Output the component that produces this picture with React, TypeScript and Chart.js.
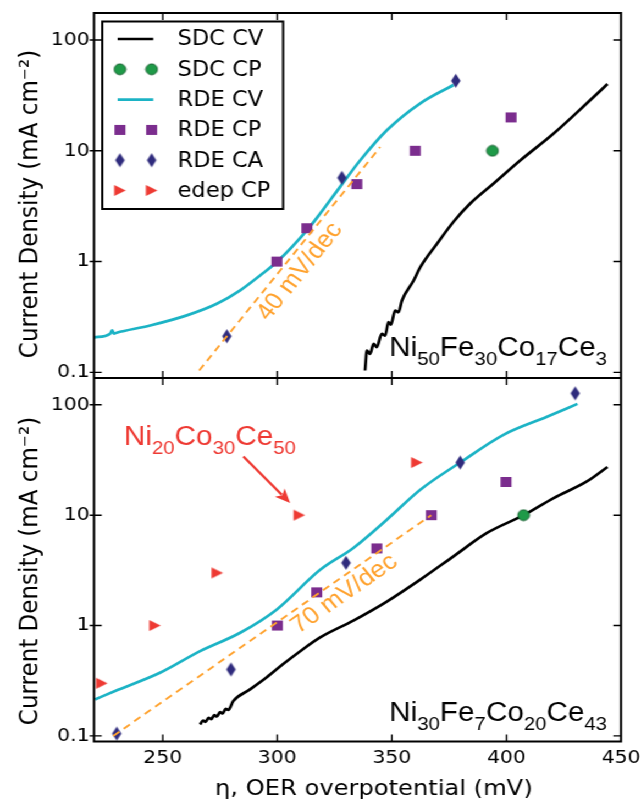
import React, { useEffect, useRef } from 'react';
import { Chart, registerables } from 'chart.js';
Chart.register(...registerables);

// ---------- axes ----------
const X_MIN = 220;
const X_MAX = 450;
const Y_MIN = 0.089;
const Y_MAX = 175;
const X_TICKS = [250, 300, 350, 400, 450];
const X_TICK_LABELS = ['250', '300', '350', '400', '450'];
const Y_TICKS = [0.1, 1, 10, 100];
const Y_TICK_LABELS = ['0.1', '1', '10', '100'];
const X_TITLE = 'η, OER overpotential (mV)';
const Y_TITLE = 'Current Density (mA cm⁻²)';

// ---------- legend ----------
const LEGEND_LABELS = ['SDC CV', 'SDC CP', 'RDE CV', 'RDE CP', 'RDE CA', 'edep CP'];

// ---------- top panel: Ni50Fe30Co17Ce3 ----------
const TOP_SDC_CV_X = [338.3, 339.1, 340.5, 342.0, 343.4, 345.6, 347.1, 348.5, 349.6, 351.4, 352.9, 354.4, 359.5, 362.4, 369.7, 377.0, 384.2, 394.4, 406.1, 420.6, 435.1, 444.1];
const TOP_SDC_CV_Y = [0.104, 0.157, 0.147, 0.181, 0.169, 0.223, 0.215, 0.284, 0.27, 0.362, 0.349, 0.446, 0.675, 0.89, 1.45, 2.3, 3.34, 5.06, 8.2, 14.3, 26.8, 40];
const TOP_SDC_CP_X = [393.9];
const TOP_SDC_CP_Y = [10];
const TOP_RDE_CV_X = [220, 227.0, 227.9, 228.7, 229.9, 244.5, 260.5, 273.6, 283.8, 292.5, 299.8, 312.9, 318.7, 327.4, 336.2, 347.8, 362.4, 376.9];
const TOP_RDE_CV_Y = [0.207, 0.223, 0.239, 0.224, 0.228, 0.265, 0.327, 0.416, 0.55, 0.75, 0.99, 1.91, 2.71, 4.72, 8.2, 15.3, 26.8, 39.2];
const TOP_RDE_CP_X = [299.8, 312.9, 334.7, 360.2, 402.0];
const TOP_RDE_CP_Y = [1, 2, 5, 10, 20];
const TOP_RDE_CA_X = [278.0, 328.2, 377.9];
const TOP_RDE_CA_Y = [0.212, 5.7, 42.8];
const TOP_FIT_X = [265.9, 344.9];
const TOP_FIT_Y = [0.104, 10.8];
const TOP_FIT_LABEL = '40 mV/dec';
const TOP_FIT_LABEL_AT = 304;
const TOP_NAME = ['Ni', '50', 'Fe', '30', 'Co', '17', 'Ce', '3'];
const TOP_NAME_AT = [443.9, 0.142];

// ---------- bottom panel: Ni30Fe7Co20Ce43 ----------
const BOT_SDC_CV_X = [266.3, 267.6, 268.7, 270.0, 271.2, 272.5, 273.6, 275.0, 276.2, 277.5, 278.6, 280.8, 288.1, 295.4, 302.7, 310.0, 318.7, 333.2, 347.8, 362.4, 376.9, 391.5, 407.5, 420.6, 435.1, 444.1];
const BOT_SDC_CV_Y = [0.127, 0.138, 0.134, 0.146, 0.142, 0.154, 0.150, 0.164, 0.160, 0.176, 0.172, 0.207, 0.264, 0.34, 0.45, 0.585, 0.78, 1.11, 1.65, 2.61, 4.24, 6.9, 10, 14.3, 20.2, 27.3];
const BOT_SDC_CP_X = [407.5];
const BOT_SDC_CP_Y = [10];
const BOT_RDE_CV_X = [220.4, 229.2, 248.8, 266.3, 283.8, 299.8, 318.7, 333.2, 347.8, 362.4, 379.8, 398.7, 417.7, 431.0];
const BOT_RDE_CV_Y = [0.214, 0.255, 0.373, 0.586, 0.86, 1.4, 3.2, 5.05, 9.1, 17, 30, 53.5, 78, 102];
const BOT_RDE_CP_X = [300.0, 317.2, 343.4, 367.2, 399.8];
const BOT_RDE_CP_Y = [1, 2, 5, 10, 20];
const BOT_RDE_CA_X = [229.9, 279.8, 330.0, 379.8, 430.0];
const BOT_RDE_CA_Y = [0.105, 0.4, 3.7, 30, 127];
const BOT_EDEP_CP_X = [223.4, 246.6, 273.8, 309.6, 360.9];
const BOT_EDEP_CP_Y = [0.3, 1, 3, 10, 30];
const BOT_FIT_X = [228.4, 367.2];
const BOT_FIT_Y = [0.1, 10];
const BOT_FIT_LABEL = '70 mV/dec';
const BOT_FIT_LABEL_AT = 325;
const BOT_NAME = ['Ni', '30', 'Fe', '7', 'Co', '20', 'Ce', '43'];
const BOT_NAME_AT = [443.9, 0.136];
const EDEP_NAME = ['Ni', '20', 'Co', '30', 'Ce', '50'];
const EDEP_NAME_AT = [233.1, 43.5];
const EDEP_ARROW_FROM = [285.2, 34];
const EDEP_ARROW_TO = [305.6, 12.9];

// ---------- styles ----------
const SX = 641 / 583;
const W = 583;
const TOP_H = 378;
const BOT_H = 421;
const PLOT_LEFT = 85.5;
const RIGHT_PAD = W - 621 / SX;
const ORANGE = '#ffa22e';
const RED = '#ee3a33';
const FONT = 'DejaVu Sans';
const AFONT = 'Liberation Sans';
const LINE_W = 2.7;

type Kind = 'line' | 'circle' | 'square' | 'diamond' | 'triangle';
const STYLE: Record<string, { kind: Kind; color: string; edge?: string; w?: number; h?: number }> = {
  'SDC CV': { kind: 'line', color: '#000000' },
  'SDC CP': { kind: 'circle', color: '#1f9a48', edge: '#0c5626', w: 10.6, h: 10.8 },
  'RDE CV': { kind: 'line', color: '#1cb3c5' },
  'RDE CP': { kind: 'square', color: '#7b2d8e', w: 10, h: 10 },
  'RDE CA': { kind: 'diamond', color: '#2f2b7d', w: 8.6, h: 14 },
  'edep CP': { kind: 'triangle', color: RED, w: 10.5, h: 11 },
};

function makeMarker(kind: Kind, fill: string, edge: string | undefined, w: number, h: number) {
  const c = document.createElement('canvas');
  c.width = Math.ceil(w + 2);
  c.height = Math.ceil(h + 2);
  const g = c.getContext('2d')!;
  const cx = c.width / 2;
  const cy = c.height / 2;
  g.fillStyle = fill;
  g.beginPath();
  if (kind === 'circle') g.ellipse(cx, cy, w / 2, h / 2, 0, 0, Math.PI * 2);
  else if (kind === 'square') g.rect(cx - w / 2, cy - h / 2, w, h);
  else if (kind === 'diamond') {
    g.moveTo(cx, cy - h / 2); g.lineTo(cx + w / 2, cy); g.lineTo(cx, cy + h / 2); g.lineTo(cx - w / 2, cy); g.closePath();
  } else {
    g.moveTo(cx - w / 2, cy - h / 2); g.lineTo(cx + w / 2, cy); g.lineTo(cx - w / 2, cy + h / 2); g.closePath();
  }
  g.fill();
  if (edge) { g.strokeStyle = edge; g.lineWidth = 0.9; g.stroke(); }
  return c;
}

type Series = { label: string; xs: number[]; ys: number[] };
type Panel = {
  name: string;
  isBottom: boolean;
  series: Series[];
  fitX: number[]; fitY: number[]; fitLabel: string; fitLabelAt: number; fitOffset: number;
  chem: string[]; chemAt: number[];
  titleY: number;
};

const TOP_PANEL: Panel = {
  name: 'top', isBottom: false,
  series: [
    { label: 'SDC CV', xs: TOP_SDC_CV_X, ys: TOP_SDC_CV_Y },
    { label: 'SDC CP', xs: TOP_SDC_CP_X, ys: TOP_SDC_CP_Y },
    { label: 'RDE CV', xs: TOP_RDE_CV_X, ys: TOP_RDE_CV_Y },
    { label: 'RDE CP', xs: TOP_RDE_CP_X, ys: TOP_RDE_CP_Y },
    { label: 'RDE CA', xs: TOP_RDE_CA_X, ys: TOP_RDE_CA_Y },
  ],
  fitX: TOP_FIT_X, fitY: TOP_FIT_Y, fitLabel: TOP_FIT_LABEL, fitLabelAt: TOP_FIT_LABEL_AT, fitOffset: 15,
  chem: TOP_NAME, chemAt: TOP_NAME_AT, titleY: 204,
};
const BOT_PANEL: Panel = {
  name: 'bottom', isBottom: true,
  series: [
    { label: 'SDC CV', xs: BOT_SDC_CV_X, ys: BOT_SDC_CV_Y },
    { label: 'SDC CP', xs: BOT_SDC_CP_X, ys: BOT_SDC_CP_Y },
    { label: 'RDE CV', xs: BOT_RDE_CV_X, ys: BOT_RDE_CV_Y },
    { label: 'RDE CP', xs: BOT_RDE_CP_X, ys: BOT_RDE_CP_Y },
    { label: 'RDE CA', xs: BOT_RDE_CA_X, ys: BOT_RDE_CA_Y },
    { label: 'edep CP', xs: BOT_EDEP_CP_X, ys: BOT_EDEP_CP_Y },
  ],
  fitX: BOT_FIT_X, fitY: BOT_FIT_Y, fitLabel: BOT_FIT_LABEL, fitLabelAt: BOT_FIT_LABEL_AT, fitOffset: 14.5,
  chem: BOT_NAME, chemAt: BOT_NAME_AT, titleY: 571 - TOP_H,
};

function chemWidth(ctx: CanvasRenderingContext2D, parts: string[], main: number, sub: number) {
  let w = 0;
  parts.forEach((t, i) => {
    ctx.font = `${i % 2 ? sub : main}px "${AFONT}"`;
    w += ctx.measureText(t).width;
  });
  return w;
}
function drawChem(ctx: CanvasRenderingContext2D, parts: string[], x: number, y: number, color: string) {
  const main = 27, sub = 18.5, shift = 9;
  ctx.fillStyle = color;
  ctx.textAlign = 'left';
  ctx.textBaseline = 'alphabetic';
  let cx = x;
  parts.forEach((t, i) => {
    ctx.font = `${i % 2 ? sub : main}px "${AFONT}"`;
    ctx.fillText(t, cx, i % 2 ? y + shift : y);
    cx += ctx.measureText(t).width;
  });
}

function decorPlugin(p: Panel, markers: Record<string, HTMLCanvasElement>) {
  return {
    id: 'decor_' + p.name,
    afterDraw(chart: any) {
      const ctx: CanvasRenderingContext2D = chart.ctx;
      const a = chart.chartArea;
      const xs = chart.scales.x;
      const ys = chart.scales.y;
      ctx.save();
      // frame
      ctx.strokeStyle = '#000';
      ctx.lineWidth = 2;
      ctx.strokeRect(a.left, a.top, a.right - a.left, a.bottom - a.top);
      // inward ticks
      ctx.lineWidth = 1.4;
      ctx.beginPath();
      X_TICKS.forEach((t) => {
        const px = xs.getPixelForValue(t);
        if (px < a.right - 2) {
          ctx.moveTo(px, a.bottom); ctx.lineTo(px, a.bottom - 7);
          ctx.moveTo(px, a.top); ctx.lineTo(px, a.top + 7);
        }
      });
      Y_TICKS.forEach((t) => {
        const py = ys.getPixelForValue(t);
        ctx.moveTo(a.left - 4, py); ctx.lineTo(a.left + 7, py);
        ctx.moveTo(a.right, py); ctx.lineTo(a.right - 7, py);
      });
      ctx.stroke();

      // y title
      ctx.save();
      ctx.translate(33.5, p.titleY);
      ctx.rotate(-Math.PI / 2);
      ctx.fillStyle = '#000';
      ctx.font = `23px "${FONT}"`;
      ctx.textAlign = 'center';
      ctx.textBaseline = 'alphabetic';
      ctx.fillText(Y_TITLE, 0, 0);
      ctx.restore();

      // x title
      if (p.isBottom) {
        ctx.fillStyle = '#000';
        ctx.font = `22px "${FONT}"`;
        ctx.textAlign = 'center';
        ctx.textBaseline = 'alphabetic';
        ctx.fillText(X_TITLE, 340, 795 - TOP_H);
      }

      // fit label, rotated along the dashed line
      const x1 = xs.getPixelForValue(p.fitX[0]), y1 = ys.getPixelForValue(p.fitY[0]);
      const x2 = xs.getPixelForValue(p.fitX[1]), y2 = ys.getPixelForValue(p.fitY[1]);
      const ang = Math.atan2(y2 - y1, x2 - x1);
      const f = (p.fitLabelAt - p.fitX[0]) / (p.fitX[1] - p.fitX[0]);
      const vOn = Math.pow(10, Math.log10(p.fitY[0]) + f * (Math.log10(p.fitY[1]) - Math.log10(p.fitY[0])));
      const px = xs.getPixelForValue(p.fitLabelAt), py = ys.getPixelForValue(vOn);
      const off = p.fitOffset;
      ctx.save();
      ctx.translate(px - Math.sin(ang) * off, py + Math.cos(ang) * off);
      ctx.rotate(ang);
      ctx.fillStyle = ORANGE;
      ctx.font = `24px "${AFONT}"`;
      ctx.textAlign = 'center';
      ctx.textBaseline = 'middle';
      ctx.fillText(p.fitLabel, 0, 0);
      ctx.restore();

      // composition label (right aligned)
      {
        const wChem = chemWidth(ctx, p.chem, 27, 18.5);
        const rx = xs.getPixelForValue(p.chemAt[0]);
        const by = ys.getPixelForValue(p.chemAt[1]);
        drawChem(ctx, p.chem, rx - wChem, by, '#000');
      }

      if (p.isBottom) {
        // edep label + arrow
        drawChem(ctx, EDEP_NAME, xs.getPixelForValue(EDEP_NAME_AT[0]), ys.getPixelForValue(EDEP_NAME_AT[1]), RED);
        const ax = xs.getPixelForValue(EDEP_ARROW_FROM[0]), ay = ys.getPixelForValue(EDEP_ARROW_FROM[1]);
        const bx = xs.getPixelForValue(EDEP_ARROW_TO[0]), by = ys.getPixelForValue(EDEP_ARROW_TO[1]);
        const an = Math.atan2(by - ay, bx - ax);
        const hl = 14, hw = 6;
        ctx.strokeStyle = RED;
        ctx.fillStyle = RED;
        ctx.lineWidth = 2.4;
        ctx.beginPath();
        ctx.moveTo(ax, ay);
        ctx.lineTo(bx - Math.cos(an) * hl * 0.8, by - Math.sin(an) * hl * 0.8);
        ctx.stroke();
        ctx.beginPath();
        ctx.moveTo(bx, by);
        ctx.lineTo(bx - Math.cos(an) * hl - Math.sin(an) * hw, by - Math.sin(an) * hl + Math.cos(an) * hw);
        ctx.lineTo(bx - Math.cos(an) * hl * 0.75, by - Math.sin(an) * hl * 0.75);
        ctx.lineTo(bx - Math.cos(an) * hl + Math.sin(an) * hw, by - Math.sin(an) * hl - Math.cos(an) * hw);
        ctx.closePath();
        ctx.fill();
      } else {
        // legend
        const bx = a.left + 7.5, by = 21.5, bw = 164.5, bh = 187.5;
        ctx.fillStyle = '#fff';
        ctx.fillRect(bx, by, bw, bh);
        ctx.strokeStyle = '#000';
        ctx.lineWidth = 2;
        ctx.strokeRect(bx, by, bw, bh);
        LEGEND_LABELS.forEach((lab, i) => {
          const ry = by + 17.5 + i * 30.3;
          const st = STYLE[lab];
          if (st.kind === 'line') {
            ctx.strokeStyle = st.color;
            ctx.lineWidth = LINE_W;
            ctx.beginPath();
            ctx.moveTo(bx + 14, ry);
            ctx.lineTo(bx + 46.4, ry);
            ctx.stroke();
          } else {
            const m = markers[lab];
            [bx + 16.1, bx + 44.9].forEach((mx) => ctx.drawImage(m, mx - m.width / 2, ry - m.height / 2));
          }
          ctx.fillStyle = '#000';
          ctx.font = `20.5px "${FONT}"`;
          ctx.textAlign = 'left';
          ctx.textBaseline = 'middle';
          ctx.fillText(lab, bx + 68.5, ry + 1);
        });
      }
      ctx.restore();
    },
  };
}

function buildConfig(p: Panel, markers: Record<string, HTMLCanvasElement>): any {
  const datasets: any[] = [];
  p.series.forEach((s) => {
    const st = STYLE[s.label];
    const data = s.xs.map((x, i) => ({ x, y: s.ys[i] }));
    if (st.kind === 'line') {
      datasets.push({ label: s.label, data, showLine: true, borderColor: st.color, borderWidth: LINE_W, pointRadius: 0, pointHoverRadius: 0, cubicInterpolationMode: 'monotone', fill: false, order: 2 });
    } else {
      datasets.push({ label: s.label, data, showLine: false, pointStyle: markers[s.label], pointRadius: 6, pointHoverRadius: 6, order: 1 });
    }
  });
  datasets.push({
    label: p.fitLabel, data: p.fitX.map((x, i) => ({ x, y: p.fitY[i] })), showLine: true,
    borderColor: ORANGE, borderWidth: 1.9, borderDash: [7, 5], pointRadius: 0, pointHoverRadius: 0, order: 0,
  });
  // tiny lineHeight so the axes do not reserve half-label padding at the plot edges
  const tickFont = { family: FONT, size: 18.5, lineHeight: 0.01 };
  return {
    type: 'scatter',
    data: { datasets },
    plugins: [decorPlugin(p, markers)],
    options: {
      animation: false,
      responsive: true,
      maintainAspectRatio: false,
      events: [],
      layout: { autoPadding: false, padding: { left: 0, right: RIGHT_PAD, top: p.isBottom ? 0 : 13, bottom: 0 } },
      plugins: { legend: { display: false }, tooltip: { enabled: false } },
      scales: {
        x: {
          type: 'linear', min: X_MIN, max: X_MAX, display: p.isBottom,
          afterBuildTicks: (s: any) => { s.ticks = X_TICKS.map((v) => ({ value: v })); },
          afterFit: (s: any) => { s.height = p.isBottom ? BOT_H - 363.5 : 0; s.paddingLeft = 0; s.paddingRight = 0; },
          ticks: { font: tickFont, color: '#000', padding: 16.5, maxRotation: 0, autoSkip: false, callback: (_v: any, i: number) => X_TICK_LABELS[i] },
          grid: { display: false, drawTicks: false },
          border: { display: false },
        },
        y: {
          type: 'logarithmic', min: Y_MIN, max: Y_MAX, position: 'left',
          afterBuildTicks: (s: any) => { s.ticks = Y_TICKS.map((v) => ({ value: v })); },
          afterFit: (s: any) => { s.width = PLOT_LEFT; s.paddingTop = 0; s.paddingBottom = 0; },
          ticks: { font: tickFont, color: '#000', padding: 4, autoSkip: false, callback: (_v: any, i: number) => Y_TICK_LABELS[i] },
          grid: { display: false, drawTicks: false },
          border: { display: false },
        },
      },
    },
  };
}

export default function App() {
  const topRef = useRef<HTMLCanvasElement>(null);
  const botRef = useRef<HTMLCanvasElement>(null);
  useEffect(() => {
    const markers: Record<string, HTMLCanvasElement> = {};
    LEGEND_LABELS.forEach((lab) => {
      const st = STYLE[lab];
      if (st.kind !== 'line') markers[lab] = makeMarker(st.kind, st.color, st.edge, st.w!, st.h!);
    });
    const c1 = new Chart(topRef.current!, buildConfig(TOP_PANEL, markers));
    const c2 = new Chart(botRef.current!, buildConfig(BOT_PANEL, markers));
    return () => { c1.destroy(); c2.destroy(); };
  }, []);
  return (
    <div style={{ position: 'absolute', left: 0, top: 0, width: W, height: 799, transform: `scaleX(${SX})`, transformOrigin: '0 0', background: '#fff', overflow: 'hidden' }}>
      <div style={{ position: 'absolute', left: 0, top: 0, width: W, height: TOP_H }}>
        <canvas ref={topRef} />
      </div>
      <div style={{ position: 'absolute', left: 0, top: TOP_H, width: W, height: BOT_H }}>
        <canvas ref={botRef} />
      </div>
    </div>
  );
}
